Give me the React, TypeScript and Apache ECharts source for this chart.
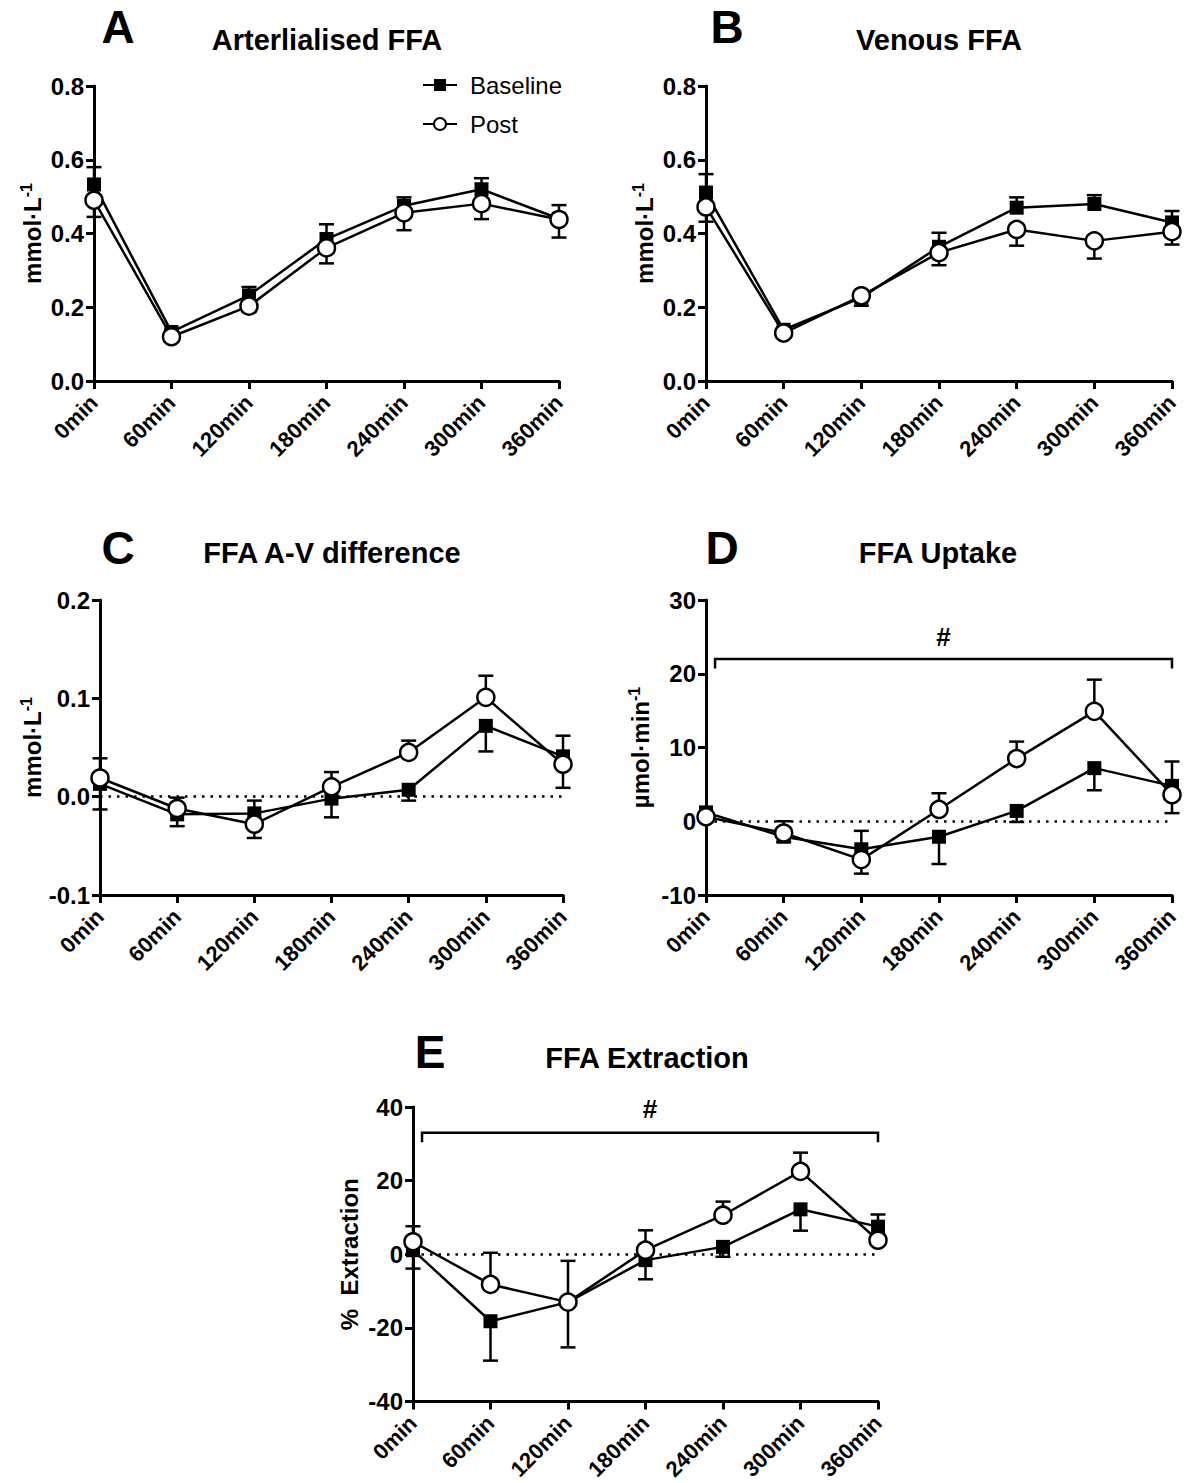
import React, { useEffect, useRef } from 'react';
import * as echarts from 'echarts';

const FONT = 'Liberation Sans, Arial, sans-serif';

const times = [0, 60, 120, 180, 240, 300, 360];
const timeLabels = ['0min', '60min', '120min', '180min', '240min', '300min', '360min'];

// Panel A – Arterialised FFA (mmol/L)
const aBaseMean = [0.533, 0.133, 0.232, 0.385, 0.475, 0.52, 0.44];
const aBaseUp = [0.047, 0.006, 0.023, 0.04, 0.023, 0.03, 0.037];
const aBaseDown = [0, 0, 0, 0, 0, 0, 0];
const aPostMean = [0.49, 0.12, 0.203, 0.361, 0.456, 0.481, 0.438];
const aPostUp = [0, 0, 0, 0, 0, 0, 0];
const aPostDown = [0.045, 0.006, 0.016, 0.042, 0.047, 0.042, 0.049];

// Panel B – Venous FFA (mmol/L)
const bBaseMean = [0.511, 0.139, 0.226, 0.364, 0.47, 0.48, 0.43];
const bBaseUp = [0.05, 0.006, 0, 0.038, 0.028, 0.024, 0.031];
const bBaseDown = [0, 0, 0.022, 0, 0, 0, 0];
const bPostMean = [0.472, 0.13, 0.231, 0.348, 0.411, 0.38, 0.405];
const bPostUp = [0, 0, 0.008, 0, 0, 0, 0];
const bPostDown = [0.04, 0.008, 0, 0.034, 0.044, 0.048, 0.035];

// Panel C – FFA A-V difference (mmol/L)
const cBaseMean = [0.013, -0.018, -0.017, -0.002, 0.007, 0.072, 0.041];
const cBaseUp = [0, 0, 0.013, 0, 0, 0, 0.021];
const cBaseDown = [0.026, 0.012, 0, 0.019, 0.011, 0.026, 0];
const cPostMean = [0.019, -0.012, -0.028, 0.01, 0.045, 0.101, 0.033];
const cPostUp = [0.02, 0.011, 0, 0.015, 0.012, 0.022, 0];
const cPostDown = [0, 0, 0.014, 0, 0, 0, 0.024];

// Panel D – FFA Uptake (µmol/min)
const dBaseMean = [1.2, -2.1, -3.8, -2.1, 1.4, 7.2, 4.8];
const dBaseUp = [0, 0, 2.5, 0, 0, 0, 3.3];
const dBaseDown = [0.5, 0.7, 0, 3.7, 1.5, 3.0, 0];
const dPostMean = [0.6, -1.6, -5.2, 1.6, 8.5, 14.9, 3.6];
const dPostUp = [0.4, 1.6, 0, 2.2, 2.3, 4.3, 0];
const dPostDown = [0, 0, 1.9, 0, 0, 0, 2.5];

// Panel E – FFA Extraction (%)
const eBaseMean = [1.1, -18.2, -13.0, -1.6, 2.0, 12.2, 7.5];
const eBaseUp = [0, 0, 11.2, 0, 0, 0, 3.3];
const eBaseDown = [5.0, 10.7, 0, 5.2, 2.7, 5.8, 0];
const ePostMean = [3.4, -8.2, -13.0, 1.1, 10.6, 22.5, 3.8];
const ePostUp = [4.2, 8.6, 0, 5.4, 3.7, 5.1, 0];
const ePostDown = [0, 0, 12.3, 0, 0, 0, 1.3];

// Significance brackets: [xStart, xEnd, yLine, yEnd, yHash]
const dBracket = [7, 360, 22, 20.7, 25];
const eBracket = [7, 360, 33, 30.4, 39.5];

// Y axis ranges: [min, max, interval]
const yRangeA = [0, 0.8, 0.2];
const yRangeB = [0, 0.8, 0.2];
const yRangeC = [-0.1, 0.2, 0.1];
const yRangeD = [-10, 30, 10];
const yRangeE = [-40, 40, 20];

const mmolName = '{a|mmol·L}{s|-1}';
const umolName = '{a|µmol·min}{s|-1}';

const panels = [
  { grid: { left: 94, top: 86, width: 465, height: 295 }, y: yRangeA, dec: 1, name: mmolName, nameGap: 48,
    base: [aBaseMean, aBaseUp, aBaseDown], post: [aPostMean, aPostUp, aPostDown], zero: false, bracket: null },
  { grid: { left: 706, top: 86, width: 466, height: 295 }, y: yRangeB, dec: 1, name: mmolName, nameGap: 48,
    base: [bBaseMean, bBaseUp, bBaseDown], post: [bPostMean, bPostUp, bPostDown], zero: false, bracket: null },
  { grid: { left: 100, top: 600, width: 463, height: 295 }, y: yRangeC, dec: 1, name: mmolName, nameGap: 52,
    base: [cBaseMean, cBaseUp, cBaseDown], post: [cPostMean, cPostUp, cPostDown], zero: true, bracket: null },
  { grid: { left: 706, top: 600, width: 466, height: 295 }, y: yRangeD, dec: 0, name: umolName, nameGap: 52,
    base: [dBaseMean, dBaseUp, dBaseDown], post: [dPostMean, dPostUp, dPostDown], zero: true, bracket: dBracket },
  { grid: { left: 413, top: 1107, width: 465, height: 295 }, y: yRangeE, dec: 0, name: '%  Extraction', nameGap: 52,
    base: [eBaseMean, eBaseUp, eBaseDown], post: [ePostMean, ePostUp, ePostDown], zero: true, bracket: eBracket },
];

const titles = [
  { letter: 'A', lx: 118, ly: 27, text: 'Arterlialised FFA', tx: 327, ty: 40 },
  { letter: 'B', lx: 727, ly: 27, text: 'Venous FFA', tx: 939, ty: 40 },
  { letter: 'C', lx: 118, ly: 548, text: 'FFA A-V difference', tx: 332, ty: 553 },
  { letter: 'D', lx: 722, ly: 548, text: 'FFA Uptake', tx: 938, ty: 553 },
  { letter: 'E', lx: 430, ly: 1052, text: 'FFA Extraction', tx: 647, ty: 1058 },
];

function errRender(params: any, api: any) {
  const x = api.value(0);
  const m = api.value(1);
  const lo = api.value(2);
  const hi = api.value(3);
  const pLo = api.coord([x, lo]);
  const pHi = api.coord([x, hi]);
  const cap = 7.5;
  const st = { stroke: '#000', lineWidth: 2.5 };
  const children: any[] = [];
  if (hi - lo > 0) {
    children.push({ type: 'line', shape: { x1: pLo[0], y1: pLo[1], x2: pHi[0], y2: pHi[1] }, style: st });
  }
  if (hi > m) children.push({ type: 'line', shape: { x1: pHi[0] - cap, y1: pHi[1], x2: pHi[0] + cap, y2: pHi[1] }, style: st });
  if (lo < m) children.push({ type: 'line', shape: { x1: pLo[0] - cap, y1: pLo[1], x2: pLo[0] + cap, y2: pLo[1] }, style: st });
  return { type: 'group', children };
}

function bracketRender(params: any, api: any) {
  const x0 = api.value(0), x1 = api.value(1), y = api.value(2), yEnd = api.value(3), yHash = api.value(4);
  const a = api.coord([x0, yEnd]);
  const b = api.coord([x0, y]);
  const c = api.coord([x1, y]);
  const d = api.coord([x1, yEnd]);
  const h = api.coord([(x0 + x1) / 2, yHash]);
  return {
    type: 'group',
    children: [
      { type: 'polyline', shape: { points: [a, b, c, d] }, style: { stroke: '#000', lineWidth: 2.5, fill: 'none' } },
      { type: 'text', x: h[0], y: h[1], style: { text: '#', font: `bold 26px ${FONT}`, fill: '#000', align: 'center', verticalAlign: 'middle' } },
    ],
  };
}

function buildOption() {
  const grid: any[] = [];
  const xAxis: any[] = [];
  const yAxis: any[] = [];
  const series: any[] = [];
  const graphic: any[] = [];

  panels.forEach((p, i) => {
    grid.push({ ...p.grid, containLabel: false });
    xAxis.push({
      type: 'value', gridIndex: i, min: 0, max: 360, interval: 60,
      axisLine: { show: true, onZero: false, lineStyle: { color: '#000', width: 3 } },
      axisTick: { show: true, length: 8, lineStyle: { color: '#000', width: 3 } },
      splitLine: { show: false },
      axisLabel: {
        rotate: 45, margin: 18, color: '#000', fontSize: 22, fontWeight: 'bold', fontFamily: FONT,
        formatter: (v: number) => timeLabels[times.indexOf(v)] ?? '',
      },
    });
    yAxis.push({
      type: 'value', gridIndex: i, min: p.y[0], max: p.y[1], interval: p.y[2],
      name: p.name, nameLocation: 'middle', nameGap: p.nameGap,
      nameTextStyle: {
        color: '#000', fontSize: 24, fontWeight: 'bold', fontFamily: FONT,
        rich: {
          a: { fontSize: 24, fontWeight: 'bold', fontFamily: FONT, color: '#000', lineHeight: 28 },
          s: { fontSize: 16, fontWeight: 'bold', fontFamily: FONT, color: '#000', verticalAlign: 'top', lineHeight: 16 },
        },
      },
      axisLine: { show: true, onZero: false, lineStyle: { color: '#000', width: 3 } },
      axisTick: { show: true, length: 8, lineStyle: { color: '#000', width: 3 } },
      splitLine: { show: false },
      axisLabel: {
        margin: 10, color: '#000', fontSize: 24, fontWeight: 'bold', fontFamily: FONT,
        formatter: (v: number) => (Math.abs(v) < 1e-9 ? 0 : v).toFixed(p.dec),
      },
    });

    const mk = (arr: number[][]) => times.map((t, k) => [t, arr[0][k], arr[0][k] - arr[2][k], arr[0][k] + arr[1][k]]);

    series.push({
      type: 'custom', xAxisIndex: i, yAxisIndex: i, renderItem: errRender, z: 2,
      encode: { x: 0, y: [1, 2, 3] }, data: mk(p.base), silent: true,
    });
    series.push({
      type: 'custom', xAxisIndex: i, yAxisIndex: i, renderItem: errRender, z: 2,
      encode: { x: 0, y: [1, 2, 3] }, data: mk(p.post), silent: true,
    });
    series.push({
      name: 'Baseline', type: 'line', xAxisIndex: i, yAxisIndex: i, z: 4,
      data: times.map((t, k) => [t, p.base[0][k]]),
      symbol: 'rect', symbolSize: 14, showSymbol: true,
      lineStyle: { color: '#000', width: 2.5 },
      itemStyle: { color: '#000', borderColor: '#000', borderWidth: 0 },
      markLine: p.zero
        ? {
            silent: true, symbol: 'none', label: { show: false },
            lineStyle: { color: '#000', width: 2.5, type: [2.5, 6] },
            data: [{ yAxis: 0 }],
          }
        : undefined,
    });
    series.push({
      name: 'Post', type: 'line', xAxisIndex: i, yAxisIndex: i, z: 5,
      data: times.map((t, k) => [t, p.post[0][k]]),
      symbol: 'circle', symbolSize: 17, showSymbol: true,
      lineStyle: { color: '#000', width: 2.5 },
      itemStyle: { color: '#fff', borderColor: '#000', borderWidth: 2.5 },
    });
    if (p.bracket) {
      series.push({
        type: 'custom', xAxisIndex: i, yAxisIndex: i, renderItem: bracketRender, z: 3,
        encode: { x: [0, 1], y: [2, 3, 4] }, data: [p.bracket], silent: true,
      });
    }
  });

  titles.forEach((t) => {
    graphic.push({
      type: 'text', x: t.lx, y: t.ly,
      style: { text: t.letter, font: `bold 46px ${FONT}`, fill: '#000', align: 'center', verticalAlign: 'middle' },
    });
    graphic.push({
      type: 'text', x: t.tx, y: t.ty,
      style: { text: t.text, font: `bold 29px ${FONT}`, fill: '#000', align: 'center', verticalAlign: 'middle' },
    });
  });

  return {
    animation: false,
    backgroundColor: '#fff',
    grid, xAxis, yAxis, series, graphic,
    legend: {
      data: ['Baseline', 'Post'], orient: 'vertical', left: 417, top: 68,
      itemWidth: 34, itemHeight: 15, itemGap: 15,
      textStyle: { color: '#000', fontSize: 24, fontFamily: FONT, padding: [0, 0, 0, 8] },
      selectedMode: false,
    },
  };
}

export default function App() {
  const ref = useRef<HTMLDivElement>(null);
  useEffect(() => {
    document.body.style.margin = '0';
    const chart = echarts.init(ref.current!, null, { renderer: 'svg' });
    chart.setOption(buildOption() as any);
    return () => chart.dispose();
  }, []);
  return <div ref={ref} style={{ width: 1187, height: 1483, background: '#fff' }} />;
}
